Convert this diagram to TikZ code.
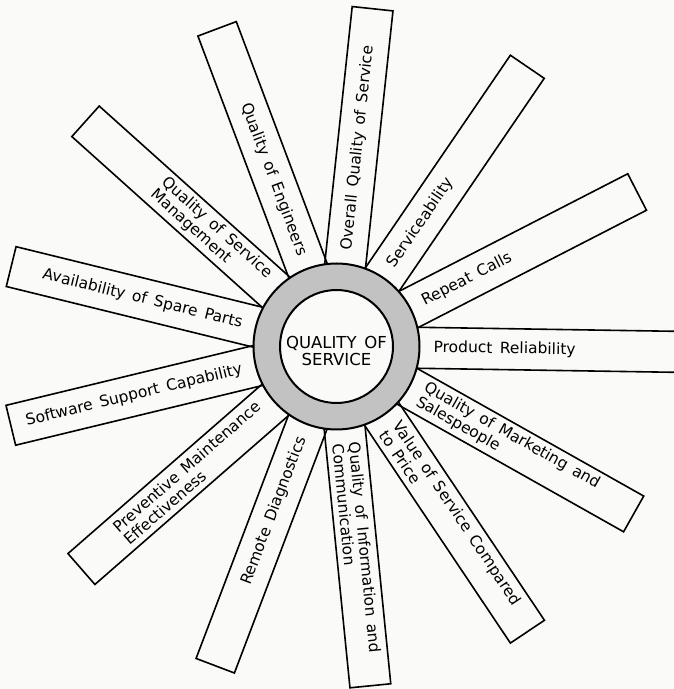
\documentclass[tikz,border=0pt]{standalone}
\usepackage{fontspec}
\setmainfont[WordSpace=1.5]{DejaVu Sans}
\usetikzlibrary{calc}
\definecolor{paper}{RGB}{250,250,248}
\definecolor{ringgray}{RGB}{194,194,194}
\begin{document}
\begin{tikzpicture}[x=1pt,y=1pt,
  spokebox/.style={draw=black, line width=1.6pt, rectangle, inner sep=0pt,
    minimum height=41pt, anchor=west},
  spoketext/.style={font=\fontsize{15.5}{16.5}\selectfont, inner sep=0pt, align=left},
  coretext/.style={font=\fontsize{16.5}{16.5}\selectfont, inner sep=0pt, align=center}]
\fill[paper] (0,0) rectangle (674,689);
\useasboundingbox (0,0) rectangle (674,689);
\coordinate (C) at (336.5,342.5);

% spokes radiating from the hub
\begin{scope}
\clip (0,0) rectangle (674,689);
\foreach \a/\L/\n in {83.9/338.9/1, 55.7/337.8/2, 27.2/337.2/3, -0.9/420/4,
  -29.4/340.3/5, -56.2/342.4/6, -84.3/340.2/7, 249.2/340.7/8, 221.1/337.7/9,
  193.6/334.3/10, 166.2/334.2/11, 138.1/336.4/12, 110.6/338.6/13} {
  \node[spokebox, rotate=\a, minimum width={\L-50}] (sp\n) at ($(C)+(\a:50)$) {};
}
\end{scope}

% labels, set from the hub outwards
\node[spoketext, rotate=83.9, anchor=west] (t1) at ($(C)+(83.9:97)$) {Overall Quality of Service};
\node[spoketext, rotate=55.7, anchor=west] (t2) at ($(C)+(55.7:97)$) {Serviceability};
\node[spoketext, rotate=27.2, anchor=west] (t3) at ($(C)+(27.2:97)$) {Repeat Calls};
\node[spoketext, rotate=-0.9, anchor=west] (t4) at ($(C)+(-0.9:97)$) {Product Reliability};
\node[spoketext, rotate=-29.4, anchor=west] (t5) at ($(C)+(-29.4:97)$) {Quality of Marketing and\\Salespeople};
\node[spoketext, rotate=-56.2, anchor=west] (t6) at ($(C)+(-56.2:97)$) {Value of Service Compared\\to Price};
\node[spoketext, rotate=-84.3, anchor=west] (t7) at ($(C)+(-84.3:97)$) {Quality of Information and\\Communication};
\node[spoketext, rotate=69.2, anchor=east] (t8) at ($(C)+(249.2:97)$) {Remote Diagnostics};
\node[spoketext, rotate=41.1, anchor=east] (t9) at ($(C)+(221.1:97)$) {Preventive Maintenance\\Effectiveness};
\node[spoketext, rotate=13.6, anchor=east] (t10) at ($(C)+(193.6:97)$) {Software Support Capability};
\node[spoketext, rotate=-13.8, anchor=east] (t11) at ($(C)+(166.2:97)$) {Availability of Spare Parts};
\node[spoketext, rotate=-41.9, anchor=east] (t12) at ($(C)+(138.1:97)$) {Quality of Service\\Management};
\node[spoketext, rotate=-69.4, anchor=east] (t13) at ($(C)+(110.6:97)$) {Quality of Engineers};

% hub: shaded ring with a white centre
\fill[ringgray, even odd rule] (C) circle (83) (C) circle (56.5);
\fill[paper] (C) circle (56.5);
\draw[line width=2pt] (C) circle (83);
\draw[line width=2pt] (C) circle (56.5);
\node[coretext] (core) at (336.5,338) {QUALITY OF\\SERVICE};
\end{tikzpicture}
\end{document}
